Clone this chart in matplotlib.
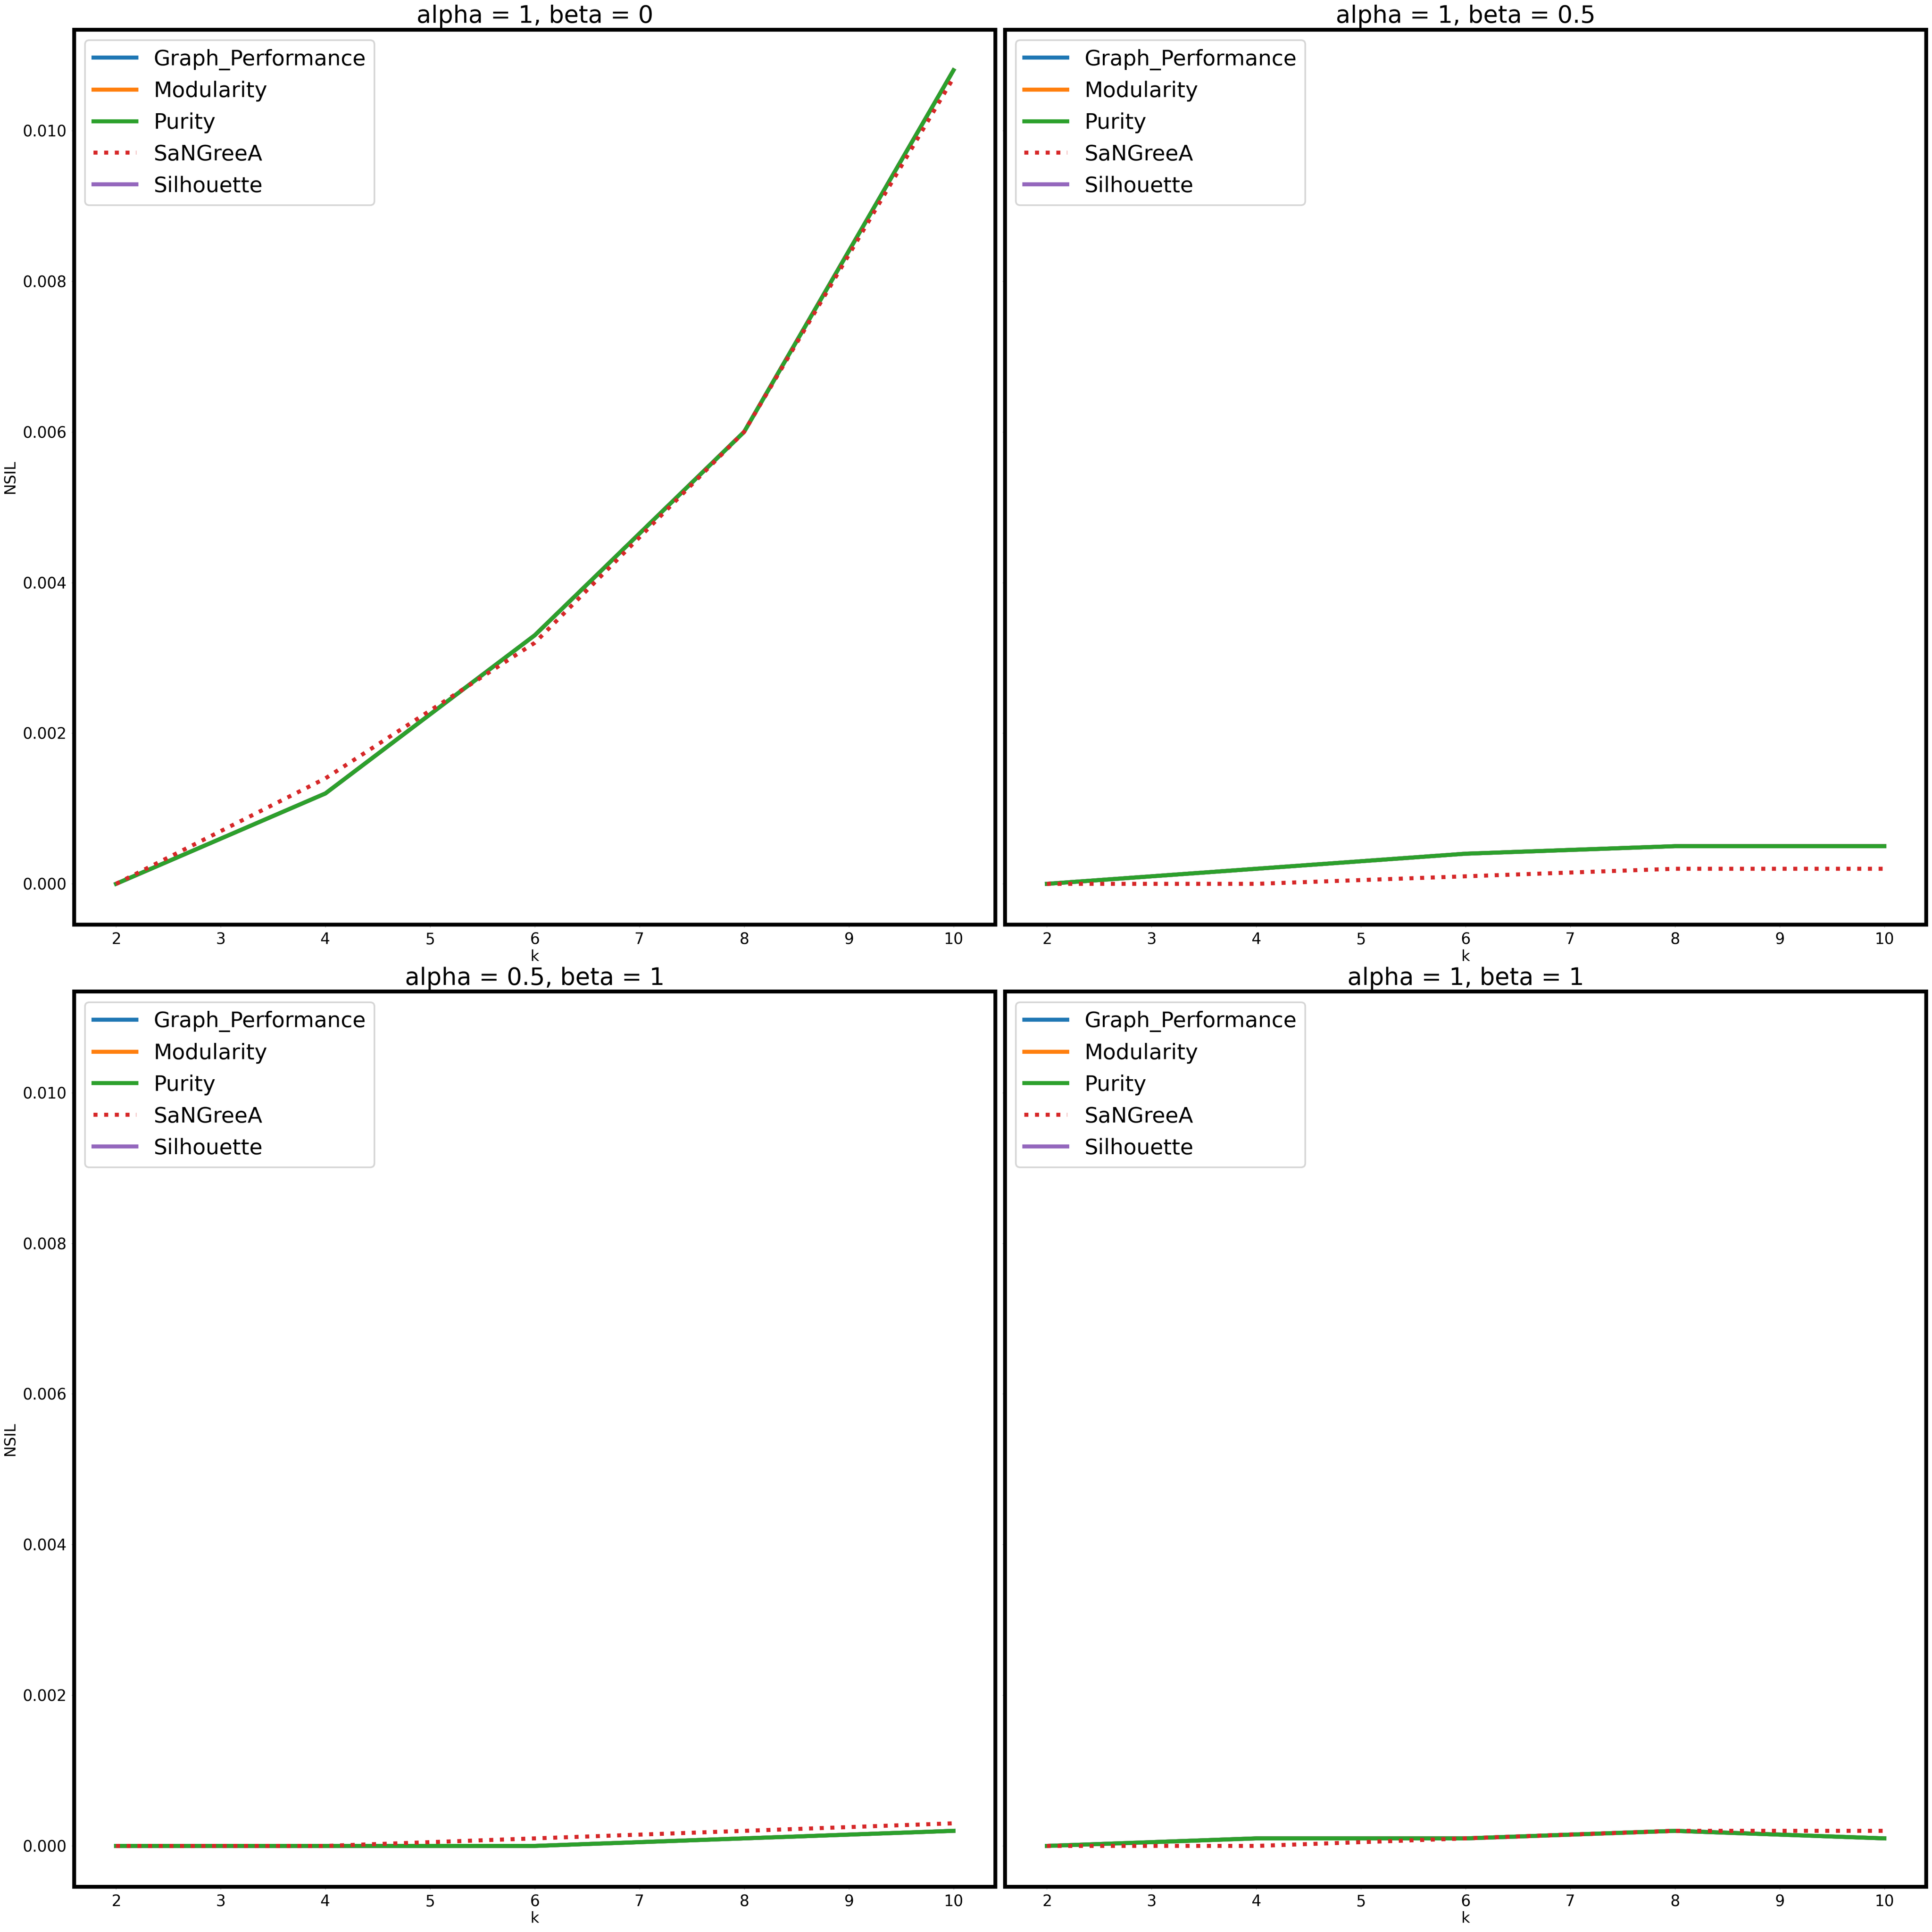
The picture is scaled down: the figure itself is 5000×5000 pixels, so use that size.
import matplotlib.pyplot as plt

k = [2, 4, 6, 8, 10]
methods = ["Graph_Performance", "Modularity", "Purity", "SaNGreeA", "Silhouette"]
titles = ["alpha = 1, beta = 0", "alpha = 1, beta = 0.5",
          "alpha = 0.5, beta = 1", "alpha = 1, beta = 1"]

# NSIL per panel; the clustering methods give the same curve
cluster_a1_b0 = [0.0, 0.0012, 0.0033, 0.0060, 0.0108]
sangreea_a1_b0 = [0.0, 0.0014, 0.0032, 0.0060, 0.0107]
cluster_a1_b05 = [0.0, 0.0002, 0.0004, 0.0005, 0.0005]
sangreea_a1_b05 = [0.0, 0.0, 0.0001, 0.0002, 0.0002]
cluster_a05_b1 = [0.0, 0.0, 0.0, 0.0001, 0.0002]
sangreea_a05_b1 = [0.0, 0.0, 0.0001, 0.0002, 0.0003]
cluster_a1_b1 = [0.0, 0.0001, 0.0001, 0.0002, 0.0001]
sangreea_a1_b1 = [0.0, 0.0, 0.0001, 0.0002, 0.0002]

panels = [
    (cluster_a1_b0, sangreea_a1_b0),
    (cluster_a1_b05, sangreea_a1_b05),
    (cluster_a05_b1, sangreea_a05_b1),
    (cluster_a1_b1, sangreea_a1_b1),
]

colors = {"Graph_Performance": "tab:blue", "Modularity": "tab:orange",
          "Purity": "tab:green", "SaNGreeA": "tab:red", "Silhouette": "tab:purple"}
zorders = {"Graph_Performance": 2, "Modularity": 2.1, "Purity": 2.5,
           "SaNGreeA": 3, "Silhouette": 2.2}

fig, axes = plt.subplots(2, 2, figsize=(16, 16), sharey=True)
fig.subplots_adjust(left=0.0384, right=0.997, top=0.9847, bottom=0.0235,
                    wspace=0.0105, hspace=0.075)

for i, ax in enumerate(axes.flat):
    cluster, sangreea = panels[i]
    for m in methods:
        if m == "SaNGreeA":
            ax.plot(k, sangreea, color=colors[m], linestyle=":", linewidth=2.4,
                    label=m, zorder=zorders[m])
        else:
            ax.plot(k, cluster, color=colors[m], linewidth=2.4,
                    label=m, zorder=zorders[m])
    ax.set_title(titles[i], fontsize=14.3, pad=4)
    ax.set_xlabel("k", fontsize=9, labelpad=1)
    ax.set_xticks(range(2, 11))
    ax.tick_params(labelsize=9.2, length=1.5, width=0.3, color="#999999", pad=3)
    for s in ax.spines.values():
        s.set_linewidth(2.3)
        s.set_color("black")
    ax.legend(loc="upper left", fontsize=12.8)
    if i % 2 == 0:
        ax.set_ylabel("NSIL", fontsize=9, labelpad=3)

plt.savefig("out.png", dpi=312.5)
